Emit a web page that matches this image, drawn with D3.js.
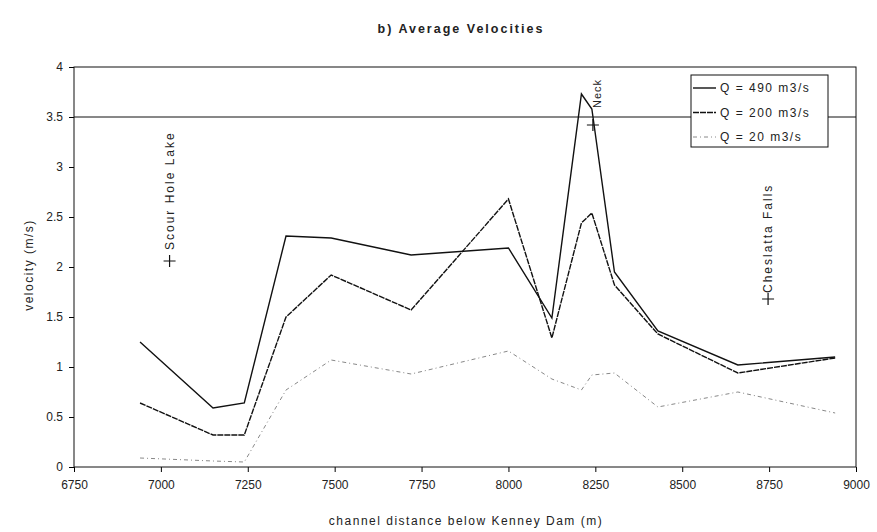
<!DOCTYPE html>
<html>
<head>
<meta charset="utf-8">
<script src="https://cdn.jsdelivr.net/npm/d3@7"></script>
<style>
    body { margin: 0; background: #ffffff; }
    svg { font-family: "Liberation Sans", Arial, sans-serif; }
    .tick text { font-size: 12px; fill: #222; }
    .lbl { font-size: 12px; fill: #222; letter-spacing: 1.5px; }
</style>
</head>
<body>
<svg id="chart" width="877" height="532"></svg>
<script>
// channel distance below Kenney Dam (m)
const distances = [6940, 7150, 7240, 7360, 7490, 7720, 8000, 8125, 8210, 8240, 8305, 8430, 8660, 8940];

// average velocities (m/s)
const q490 = [1.25, 0.59, 0.64, 2.31, 2.29, 2.12, 2.19, 1.49, 3.73, 3.58, 1.95, 1.36, 1.02, 1.10];
const q200 = [0.64, 0.32, 0.32, 1.50, 1.92, 1.57, 2.68, 1.29, 2.44, 2.54, 1.82, 1.33, 0.94, 1.09];
const q20  = [0.09, 0.06, 0.05, 0.77, 1.07, 0.93, 1.16, 0.88, 0.77, 0.92, 0.94, 0.60, 0.75, 0.54];

const seriesNames = ["Q = 490 m3/s", "Q = 200 m3/s", "Q = 20 m3/s"];

// landmarks along the channel
const landmarkNames = ["Scour Hole Lake", "Neck", "Cheslatta Falls"];
const landmarkDist = [7025, 8243, 8747];
const landmarkVel = [2.06, 3.42, 1.68];

const xTicks = [6750, 7000, 7250, 7500, 7750, 8000, 8250, 8500, 8750, 9000];
const yTicks = [0, 0.5, 1, 1.5, 2, 2.5, 3, 3.5, 4];
const refLine = 3.5;

let svg = d3.select("#chart");

let x = d3.scaleLinear()
    .domain([6750, 9000])
    .range([74, 856]);

let y = d3.scaleLinear()
    .domain([0, 4])
    .range([467, 67]);

// title
svg.append("text")
    .attr("x", 461)
    .attr("y", 33)
    .attr("text-anchor", "middle")
    .style("font-size", "12.5px")
    .style("font-weight", "bold")
    .style("letter-spacing", "2px")
    .attr("fill", "#222")
    .text("b)  Average Velocities");

// axes
svg.append("g")
    .attr("transform", `translate(0,${y(0)})`)
    .call(d3.axisBottom(x).tickValues(xTicks).tickSize(5).tickPadding(8).tickFormat(d => d))
    .call(g => g.select(".domain").remove());

svg.append("g")
    .attr("transform", `translate(${x(6750)},0)`)
    .call(d3.axisLeft(y).tickValues(yTicks).tickSize(5).tickPadding(6).tickFormat(d => d))
    .call(g => g.select(".domain").remove());

// frame
svg.append("rect")
    .attr("x", x(6750))
    .attr("y", y(4))
    .attr("width", x(9000) - x(6750))
    .attr("height", y(0) - y(4))
    .attr("fill", "none")
    .attr("stroke", "#111")
    .attr("stroke-width", 1);

// 3.5 m/s reference line
svg.append("line")
    .attr("x1", x(6750))
    .attr("x2", x(9000))
    .attr("y1", y(refLine))
    .attr("y2", y(refLine))
    .attr("stroke", "#111")
    .attr("stroke-width", 1);

// axis titles
svg.append("text")
    .attr("class", "lbl")
    .attr("x", 466)
    .attr("y", 525)
    .attr("text-anchor", "middle")
    .text("channel distance below Kenney Dam (m)");

svg.append("text")
    .attr("class", "lbl")
    .attr("transform", `translate(33,265) rotate(-90)`)
    .attr("text-anchor", "middle")
    .text("velocity (m/s)");

// series lines
let series = [q490, q200, q20];
let strokes = ["#111", "#111", "#888"];
let widths = [1.4, 1.4, 1];
let dashes = [null, "6,1", "4,3,1,3"];

let line = d3.line()
    .x((d, i) => x(distances[i]))
    .y(d => y(d));

svg.append("g")
    .selectAll("path")
    .data(series)
  .join("path")
    .attr("d", d => line(d))
    .attr("fill", "none")
    .attr("stroke", (d, i) => strokes[i])
    .attr("stroke-width", (d, i) => widths[i])
    .attr("stroke-dasharray", (d, i) => dashes[i]);

// landmarks: cross marker + rotated label
let labelGap = [11, 17, 6];
let marks = svg.append("g")
    .selectAll("g")
    .data(landmarkNames)
  .join("g")
    .attr("transform", (d, i) => `translate(${x(landmarkDist[i])},${y(landmarkVel[i])})`);

marks.append("path")
    .attr("d", "M-6,0H6M0,-6V6")
    .attr("stroke", "#111")
    .attr("stroke-width", 1.2);

marks.append("text")
    .attr("class", "lbl")
    .attr("transform", (d, i) => `translate(${i == 1 ? 8 : 4},${-labelGap[i]}) rotate(-90)`)
    .style("letter-spacing", (d, i) => i == 1 ? "1px" : "2px")
    .style("font-size", (d, i) => i == 1 ? "11px" : "12px")
    .text(d => d);

// legend
let legend = svg.append("g");

legend.append("rect")
    .attr("x", 691)
    .attr("y", 75)
    .attr("width", 137)
    .attr("height", 72)
    .attr("fill", "#ffffff")
    .attr("stroke", "#111")
    .attr("stroke-width", 1);

let rows = legend.selectAll("g")
    .data(seriesNames)
  .join("g")
    .attr("transform", (d, i) => `translate(0,${88 + i * 24.5})`);

rows.append("line")
    .attr("x1", 693)
    .attr("x2", 716)
    .attr("stroke", (d, i) => strokes[i])
    .attr("stroke-width", (d, i) => widths[i])
    .attr("stroke-dasharray", (d, i) => dashes[i]);

rows.append("text")
    .attr("class", "lbl")
    .attr("x", 720)
    .attr("y", 4)
    .text(d => d);
</script>
</body>
</html>
